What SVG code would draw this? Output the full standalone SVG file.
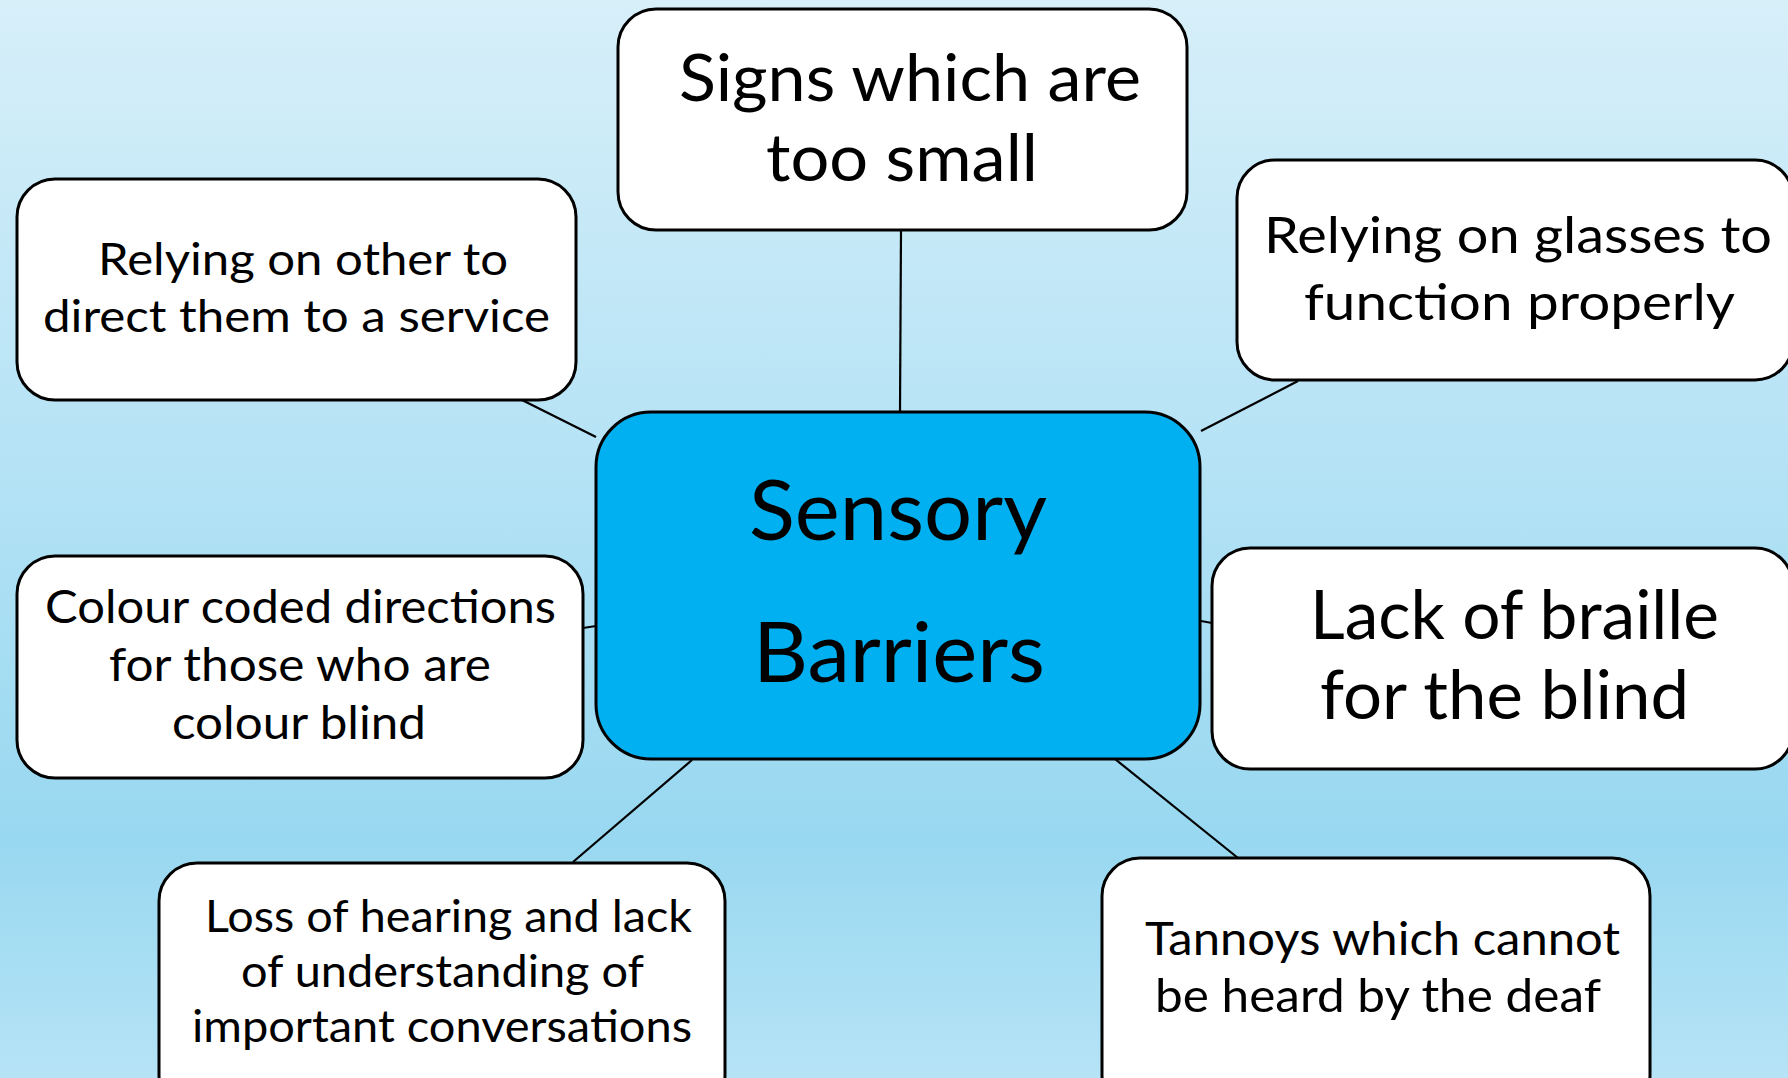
<svg xmlns="http://www.w3.org/2000/svg" width="1788" height="1078" viewBox="0 0 1788 1078">
  <defs>
    <linearGradient id="bg" x1="0" y1="0" x2="0" y2="1">
      <stop offset="0" stop-color="#D7EFF9"/>
      <stop offset="0.45" stop-color="#B3E2F5"/>
      <stop offset="0.78" stop-color="#98D8F0"/>
      <stop offset="1" stop-color="#B6E3F6"/>
    </linearGradient>
    <style>
      .box { fill: #FFFFFF; stroke: #000000; stroke-width: 3; }
      .hub { fill: #00B0F0; stroke: #000000; stroke-width: 3; }
      .link { stroke: #000000; stroke-width: 2.2; fill: none; }
      text { font-family: Lato, "Open Sans", "Liberation Sans", sans-serif; fill: #000000; }
    </style>
  </defs>

  <rect x="0" y="0" width="1788" height="1078" fill="url(#bg)"/>

  <!-- connectors from the hub to each barrier -->
  <g id="connectors">
    <line class="link" x1="901" y1="230" x2="900" y2="412"/>
    <line class="link" x1="522" y1="400" x2="596" y2="437"/>
    <line class="link" x1="1298" y1="381" x2="1201" y2="431"/>
    <line class="link" x1="583" y1="628" x2="596" y2="626"/>
    <line class="link" x1="1201" y1="621" x2="1212" y2="623"/>
    <line class="link" x1="692" y1="760" x2="573" y2="862"/>
    <line class="link" x1="1115" y1="759" x2="1238" y2="858"/>
  </g>

  <g id="hub">
    <rect class="hub" x="596" y="412" width="604" height="347" rx="55" ry="55"/>
    <text x="749" y="540" font-size="84" textLength="298" lengthAdjust="spacingAndGlyphs">Sensory</text>
    <text x="753" y="682" font-size="84" textLength="292" lengthAdjust="spacingAndGlyphs">Barriers</text>
  </g>

  <g id="signs-too-small">
    <rect class="box" x="618" y="9" width="569" height="221" rx="38" ry="38"/>
    <text x="679" y="101" font-size="66" textLength="462" lengthAdjust="spacingAndGlyphs">Signs which are</text>
    <text x="766" y="181" font-size="66" textLength="272" lengthAdjust="spacingAndGlyphs">too small</text>
  </g>

  <g id="relying-on-others">
    <rect class="box" x="17" y="179" width="559" height="221" rx="38" ry="38"/>
    <text x="98" y="275" font-size="45" textLength="410" lengthAdjust="spacingAndGlyphs">Relying on other to</text>
    <text x="43" y="332" font-size="45" textLength="507" lengthAdjust="spacingAndGlyphs">direct them to a service</text>
  </g>

  <g id="relying-on-glasses">
    <rect class="box" x="1237" y="160" width="556" height="220" rx="38" ry="38"/>
    <text x="1264" y="253" font-size="50" textLength="508" lengthAdjust="spacingAndGlyphs">Relying on glasses to</text>
    <text x="1304" y="320" font-size="50" textLength="431" lengthAdjust="spacingAndGlyphs">function properly</text>
  </g>

  <g id="colour-coded">
    <rect class="box" x="17" y="556" width="566" height="222" rx="38" ry="38"/>
    <text x="45" y="623" font-size="46" textLength="511" lengthAdjust="spacingAndGlyphs">Colour coded directions</text>
    <text x="109" y="681" font-size="46" textLength="382" lengthAdjust="spacingAndGlyphs">for those who are</text>
    <text x="172" y="739" font-size="46" textLength="254" lengthAdjust="spacingAndGlyphs">colour blind</text>
  </g>

  <g id="lack-of-braille">
    <rect class="box" x="1212" y="548" width="581" height="221" rx="38" ry="38"/>
    <text x="1310" y="639" font-size="68" textLength="409" lengthAdjust="spacingAndGlyphs">Lack of braille</text>
    <text x="1320" y="719" font-size="68" textLength="369" lengthAdjust="spacingAndGlyphs">for the blind</text>
  </g>

  <g id="loss-of-hearing">
    <rect class="box" x="159" y="863" width="566" height="250" rx="38" ry="38"/>
    <text x="205" y="932" font-size="45" textLength="487" lengthAdjust="spacingAndGlyphs">Loss of hearing and lack</text>
    <text x="241" y="987" font-size="45" textLength="403" lengthAdjust="spacingAndGlyphs">of understanding of</text>
    <text x="192" y="1042" font-size="45" textLength="500" lengthAdjust="spacingAndGlyphs">important conversations</text>
  </g>

  <g id="tannoys">
    <rect class="box" x="1102" y="858" width="548" height="255" rx="38" ry="38"/>
    <text x="1145" y="955" font-size="47" textLength="475" lengthAdjust="spacingAndGlyphs">Tannoys which cannot</text>
    <text x="1155" y="1012" font-size="47" textLength="446" lengthAdjust="spacingAndGlyphs">be heard by the deaf</text>
  </g>
</svg>
